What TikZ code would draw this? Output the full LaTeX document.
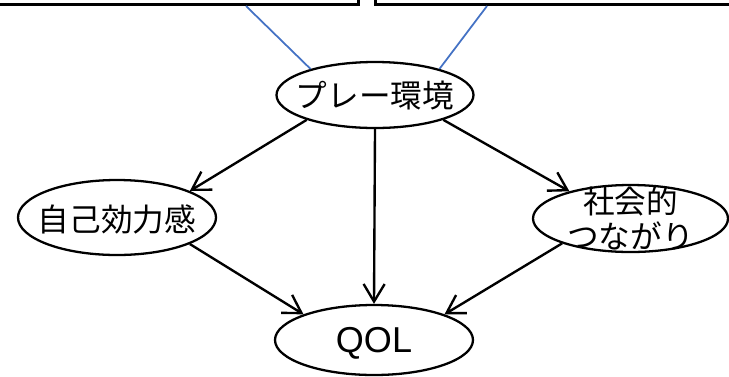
\documentclass[tikz,border=0pt]{standalone}
\usepackage{fontspec}
\setmainfont{Liberation Sans}
\newfontfamily\jpfont{Noto Sans CJK JP}
\usetikzlibrary{shapes.geometric,arrows.meta}
\tikzset{>={Straight Barb[length=10pt,width=12pt]}}
\definecolor{linkblue}{RGB}{68,114,196}

\begin{document}
\begin{tikzpicture}
\clip (0,0) rectangle (14.58,7.52);
% the two boxes running off the top edge
\begin{scope}[every node/.style={rectangle,draw,line width=1.6pt,inner sep=0pt,minimum width=8cm,minimum height=2cm}]
\node[anchor=south east] (Lbox) at (7.20,7.40) {};
\node[anchor=south west] (Rbox) at (7.48,7.40) {};
\end{scope}
\coordinate (Lfoot) at (4.92,7.40);
\coordinate (Rfoot) at (9.74,7.40);
\begin{scope}[every node/.style={ellipse,draw,line width=1.3pt,inner sep=0pt},
    every label/.style={draw=none,rectangle,font=\jpfont\fontsize{18}{19.5}\selectfont,align=center}]
\node[minimum width=3.94cm,minimum height=1.32cm,label=center:プレー環境] (Play) at (7.50,5.62) {};
\node[minimum width=3.96cm,minimum height=1.50cm,label={[yshift=-1pt]center:自己効力感}] (Self) at (2.34,3.17) {};
\node[minimum width=3.90cm,minimum height=1.34cm,label={center:社会的\\つながり}] (Social) at (12.61,3.15) {};
\node[minimum width=3.96cm,minimum height=1.40cm,label={[font=\fontsize{20.5}{22}\selectfont,yshift=-2pt]center:QOL}] (Qol) at (7.48,0.72) {};
\end{scope}
\begin{scope}[every edge/.style={draw=black,line width=1.35pt}]
    \path (Lfoot) edge [linkblue,line width=1pt] (Play.158);
    \path (Rfoot) edge [linkblue,line width=1pt] (Play.22);

    \path [->] (Play.200) edge (Self.20);
    \path [->] (Play.south) edge (Qol.north);
    \path [->] (Play.340) edge (Social.156);

    \path [->] (Self.340) edge (Qol.160);
    \path [->] (Social.200) edge (Qol.20);
\end{scope}
\end{tikzpicture}
\end{document}
